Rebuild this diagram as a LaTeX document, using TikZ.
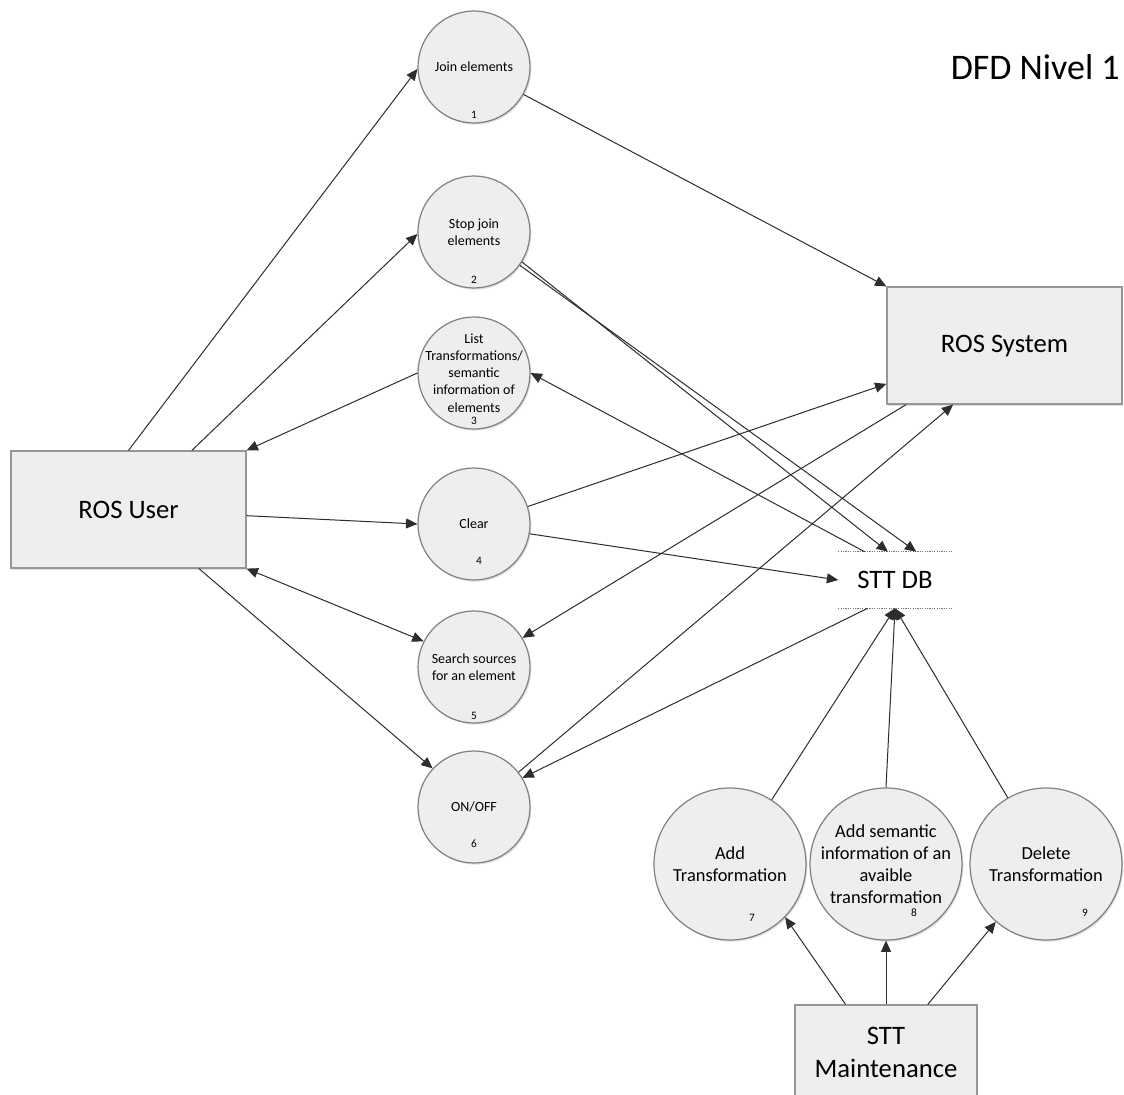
\documentclass[tikz,border=0pt]{standalone}
\usepackage{fontspec}
\setmainfont{Carlito}
\usetikzlibrary{arrows.meta,positioning,shadows}
\definecolor{procfill}{RGB}{238,238,238}
\definecolor{procline}{RGB}{128,128,128}
\definecolor{entline}{RGB}{150,150,150}
\definecolor{flowcol}{RGB}{45,45,45}
\tikzset{
  proc/.style={circle,draw=procline,fill=procfill,line width=.9pt,inner sep=-12pt,
               minimum size=84pt,align=center,font=\fontsize{10.5}{12.9}\selectfont,
               drop shadow={shadow xshift=1pt,shadow yshift=-1.2pt,opacity=.25}},
  bigproc/.style={proc,minimum size=114pt,font=\fontsize{13.8}{16.5}\selectfont},
  ent/.style={rectangle,draw=entline,fill=procfill,line width=.9pt,inner sep=0pt,
              align=center,font=\fontsize{20}{24.75}\selectfont,
              drop shadow={shadow xshift=1pt,shadow yshift=-1.2pt,opacity=.25}},
  num/.style={inner sep=0pt,font=\fontsize{8.5}{10}\selectfont},
  store/.style={rectangle,inner sep=0pt,minimum width=84.75pt,minimum height=42pt,
                font=\fontsize{20}{24}\selectfont},
  storeline/.style={draw=black!55,densely dotted,line width=.8pt},
  flow/.style={-{Triangle[length=8.5pt,width=7.5pt]},draw=flowcol,line width=.75pt},
  biflow/.style={flow,{Triangle[length=8.5pt,width=7.5pt]}-{Triangle[length=8.5pt,width=7.5pt]}},
}

\begin{document}
\begin{tikzpicture}[x=0.75pt,y=-0.75pt]
  \clip (0,0) rectangle (1124,1095);
  \fill[white] (0,0) rectangle (1124,1095);
  % processes
  \node[proc] (p1) at (474,67)  {Join elements};
  \node[proc] (p2) at (474,232) {Stop join\\elements};
  \node[proc] (p3) at (474,373) {List\\Transformations/\\semantic\\information of\\elements};
  \node[proc] (p4) at (474,524) {Clear};
  \node[proc] (p5) at (474,667) {Search sources\\for an element};
  \node[proc] (p6) at (474,807) {ON/OFF};
  \node[bigproc] (p7) at (730,864) {Add\\Transformation};
  \node[bigproc] (p8) at (886,864) {Add semantic\\information of an\\avaible\\transformation};
  \node[bigproc] (p9) at (1046,864) {Delete\\Transformation};
  \foreach \n/\x/\y in {1/474/115,2/474/280,3/474/421,4/479/561,5/474/716,6/474/844,
                        7/752/918,8/914/913,9/1085/913}{
    \node[num] (n\n) at (\x,\y) {\n};
  }
  % external entities and store
  \node[ent,minimum width=176.25pt,minimum height=87.75pt] (user) at (128.5,509.5) {ROS User};
  \node[ent,minimum width=176.25pt,minimum height=87.75pt] (sys) at (1004.5,345.5) {ROS System};
  \node[ent,minimum width=136.5pt,minimum height=71.25pt] (maint) at (886,1052.5) {STT\\Maintenance};
  \node[store] (db) at (895,580) {STT DB};
  \draw[storeline] (db.north west) -- (db.north east);
  \draw[storeline] (db.south west) -- (db.south east);
  \node[font=\fontsize{27}{32}\selectfont,anchor=east,inner sep=0pt] (title) at (1120,67) {DFD Nivel 1};
  % flows
  \draw[flow] (user.north) -- (p1.182);
  \draw[flow] (user.43.6) -- (p2.182);
  \draw[flow] (p3.west) -- (user.north east);
  \draw[flow] (user.-3.2) -- (p4.west);
  \draw[biflow] (user.south east) -- (p5.153.4);
  \draw[flow] (user.-40.5) -- (p6.137);
  \draw[flow] (p1.-29.2) -- (sys.north west);
  \draw[flow] (p2.-32) -- (db.104);
  \draw[flow] (p2.-36) -- (db.53);
  \draw[flow] (db.137) -- (p3.east);
  \draw[flow] (p4.18.4) -- (sys.198.6);
  \draw[flow] (p4.-10) -- (db.west);
  \draw[flow] (sys.211) -- (p5.31.8);
  \draw[flow] (p6.38.8) -- (sys.229);
  \draw[flow] (db.226) -- (p6.31.8);
  \draw[flow] (p7.57.4) -- (db.south);
  \draw[flow] (p8.north) -- (db.south);
  \draw[flow] (p9.120.8) -- (db.south);
  \draw[flow] (maint.130) -- (p7.-44.5);
  \draw[flow] (maint.north) -- (p8.south);
  \draw[flow] (maint.49) -- (p9.229);
\end{tikzpicture}
\end{document}
